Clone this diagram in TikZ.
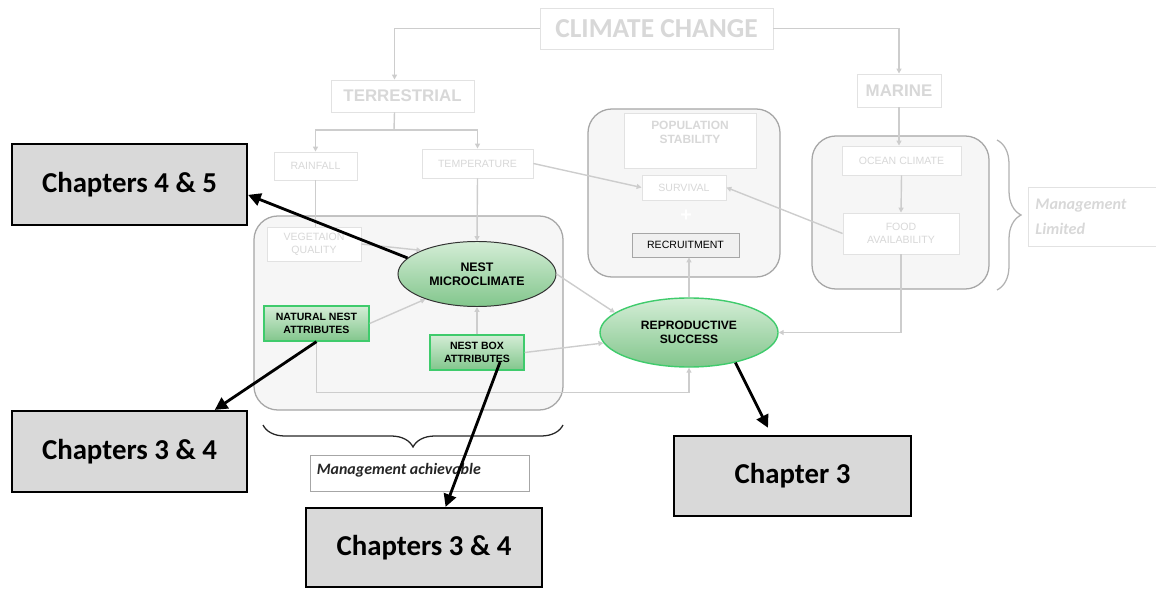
\documentclass[tikz,border=0pt]{standalone}
\usepackage{fontspec}
\setmainfont{Liberation Sans}
\newfontfamily\calibri{Carlito}
\usetikzlibrary{arrows.meta}
\usetikzlibrary{shapes.geometric}
\usetikzlibrary{decorations.pathreplacing}

\definecolor{faint}{HTML}{D8D8D8}
\definecolor{faintline}{HTML}{E2E2E2}
\definecolor{linkgray}{HTML}{CDCDCD}
\definecolor{panelline}{HTML}{A6A6A6}
\definecolor{panelfill}{HTML}{F6F6F6}
\definecolor{chapfill}{HTML}{D9D9D9}
\definecolor{greenlight}{HTML}{D4EDD6}
\definecolor{greendark}{HTML}{82C68C}
\definecolor{greenedge}{HTML}{3FCB6C}

\begin{document}
\begin{tikzpicture}[x=0.025cm, y=-0.025cm,
    faintbox/.style={draw=faintline, fill=white, line width=0.6pt, inner sep=0pt, text=faint, align=center},
    panel/.style={draw=panelline, fill=panelfill, line width=0.9pt, rounded corners=0.6cm, inner sep=0pt},
    tinytext/.style={font=\fontsize{7.5}{9}\selectfont},
    greenblob/.style={ellipse, inner sep=0pt, align=center, top color=greenlight, bottom color=greendark},
    greenbox/.style={draw=greenedge, line width=0.9pt, inner sep=0pt, align=center, top color=greenlight, bottom color=greendark, font=\bfseries\fontsize{7.5}{9.5}\selectfont},
    chapter/.style={draw=black, fill=chapfill, line width=1.5pt, inner sep=0pt, font=\calibri\bfseries\fontsize{20.5}{24}\selectfont},
    link/.style={draw=linkgray, line width=1pt},
    linkto/.style={link, -{Triangle[length=3.5pt,width=3.5pt]}},
    pointer/.style={line width=2pt, -{Triangle[length=9pt,width=9pt]}}]
      \useasboundingbox (0,0) rectangle (1156,589);

      \node [panel, minimum width=7.725cm, minimum height=4.85cm] (nestpanel) at (408.5,313) {};
      \node [panel, minimum width=4.8cm, minimum height=4.2cm] (poppanel) at (684,193) {};
      \node [panel, minimum width=4.425cm, minimum height=3.825cm] (seapanel) at (900.5,212.5) {};

      \node [faintbox, minimum width=5.825cm, minimum height=1.025cm, font=\calibri\bfseries\fontsize{19.5}{22}\selectfont] (climate) at (656.5,28.5) {CLIMATE CHANGE};
      \node [faintbox, minimum width=3.575cm, minimum height=0.8cm, font=\bfseries\fontsize{12}{14}\selectfont] (terr) at (402.5,96) {TERRESTRIAL};
      \node [faintbox, minimum width=2.1cm, minimum height=0.825cm, font=\bfseries\fontsize{12}{14}\selectfont] (marine) at (899,90.5) {MARINE};
      \node [faintbox, tinytext, minimum width=2.075cm, minimum height=0.7cm] (rain) at (315.5,166) {RAINFALL};
      \node [faintbox, tinytext, minimum width=2.775cm, minimum height=0.725cm] (temp) at (477.5,163.5) {TEMPERATURE};
      \node [faintbox, tinytext, minimum width=2.35cm, minimum height=0.85cm] (veg) at (314,244) {VEGETAION\\QUALITY};

      \node [faintbox, minimum width=3.3cm, minimum height=1.375cm,
        label={[faint, align=center, inner sep=0pt, anchor=north, yshift=-0.2cm, font=\bfseries\fontsize{8.5}{10}\selectfont]north:{POPULATION\\STABILITY}}] (popstab) at (690,140.5) {};
      \node [faintbox, tinytext, minimum width=2.1cm, minimum height=0.625cm] (surv) at (684,187.5) {SURVIVAL};
      \node [text=white, font=\bfseries\fontsize{14}{14}\selectfont] (plus) at (686,216) {+};
      \node [draw=panelline, fill=black!6, line width=0.6pt, inner sep=0pt, tinytext, minimum width=2.675cm, minimum height=0.6cm] (recruit) at (685.5,245) {RECRUITMENT};

      \node [faintbox, tinytext, minimum width=2.975cm, minimum height=0.725cm] (ocean) at (901.5,160.5) {OCEAN CLIMATE};
      \node [faintbox, tinytext, minimum width=2.9cm, minimum height=1.025cm] (food) at (901,233.5) {FOOD\\AVAILABILITY};

      \node [greenblob, draw=black!80, line width=0.7pt, minimum width=3.95cm, minimum height=1.625cm, font=\bfseries\fontsize{8.8}{10}\selectfont] (micro) at (477,274) {NEST\\MICROCLIMATE};
      \node [greenblob, draw=greenedge, line width=1pt, minimum width=4.45cm, minimum height=1.725cm, font=\bfseries\fontsize{8.6}{10}\selectfont] (repro) at (689,332.5) {REPRODUCTIVE\\SUCCESS};
      \node [greenbox, minimum width=2.625cm, minimum height=0.875cm] (natural) at (316.5,323.5) {NATURAL NEST\\ATTRIBUTES};
      \node [greenbox, minimum width=2.35cm, minimum height=0.875cm] (nestbox) at (477,352.5) {NEST BOX\\ATTRIBUTES};

      \node [draw=faintline, line width=0.6pt, text=faint, anchor=west, align=left, minimum height=1.475cm, text width=2.9cm, inner xsep=0.175cm, inner ysep=0pt,
        font=\calibri\bfseries\itshape\fontsize{11.5}{17.8}\selectfont] (limited) at (1028,216.5) {Management\\Limited};
      \node [draw=panelline, line width=0.6pt, minimum width=5.475cm, minimum height=0.9cm, inner sep=0pt,
        label={[anchor=north west, inner sep=0pt, xshift=0.175cm, yshift=-0.2cm, text=black!85, font=\calibri\bfseries\itshape\fontsize{11.3}{13}\selectfont]north west:Management achievable}] (achievable) at (419.5,473) {};

      \draw [decorate, decoration={brace, amplitude=0.6cm}, draw=black!30, line width=0.9pt] (997,140) -- (997,290);
      \draw [decorate, decoration={brace, amplitude=0.55cm}, draw=black!85, line width=0.9pt] (563,425) -- (263,425);

      \coordinate (split) at (394,130);
      \draw [linkto] (climate.west) -| ([xshift=-0.2cm]terr.north);
      \draw [linkto] (climate.east) -| (marine.north);
      \draw [link] ([xshift=-0.2cm]terr.south) -- (split);
      \draw [linkto] (split) -| (rain.north);
      \draw [linkto] (split) -| (temp.north);
      \draw [link] (rain.south) -- (rain.south |- veg.north);
      \draw [linkto] (temp.south) -- (micro.north);
      \draw [linkto] (temp.east) -- (surv.west);
      \draw [linkto] (veg.east) -- (micro.157);
      \draw [linkto] (natural.east) -- (micro.206);
      \draw [linkto] (nestbox.north) -- (micro.south);
      \draw [linkto] (nestbox.east) -- (repro.187);
      \draw [linkto] (natural.south) -- ++(0,51) -| (repro.south);
      \draw [linkto] (micro.east) -- (repro.165);
      \draw [linkto] (repro.north) -- (repro.north |- recruit.south);
      \draw [linkto] (food.south) |- (repro.east);
      \draw [linkto] (food.west) -- (surv.east);
      \draw [linkto] (marine.south) -- (marine.south |- ocean.north);
      \draw [linkto] (ocean.south) -- (food.north);

      \node [chapter, minimum width=5.875cm, minimum height=2.025cm] (ch45) at (129.5,184.5) {Chapters 4 \& 5};
      \node [chapter, minimum width=5.875cm, minimum height=2.025cm] (ch34left) at (129.5,451.5) {Chapters 3 \& 4};
      \node [chapter, minimum width=5.9cm, minimum height=1.975cm] (ch34low) at (424,547.5) {Chapters 3 \& 4};
      \node [chapter, minimum width=5.925cm, minimum height=2cm] (ch3) at (792.5,476) {Chapter 3};

      \draw [pointer] (micro.167) -- (ch45.-5.6);
      \draw [pointer] (natural.south) -- (ch34left.26.7);
      \draw [pointer] ([xshift=0.575cm,yshift=-0.24cm]nestbox.center) -- (ch34low.62);
      \draw [pointer, shorten >=0.2cm] (repro.-33) -- (ch3.117);
    \end{tikzpicture}
\end{document}
